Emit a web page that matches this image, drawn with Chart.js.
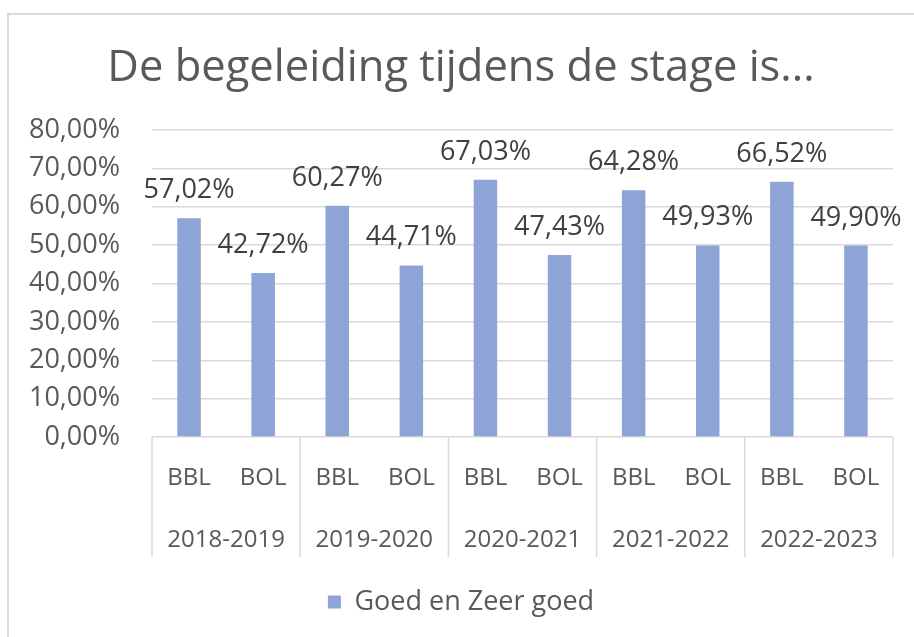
<!DOCTYPE html>
<html lang="nl">
<head>
<meta charset="UTF-8">
<title>De begeleiding tijdens de stage is...</title>
<script src="https://cdn.jsdelivr.net/npm/chart.js@4"></script>
<style>
  html, body { margin: 0; padding: 0; background: #fff; overflow: hidden; width: 914px; height: 637px; }
  .frame { position: absolute; left: 7px; top: 13px; width: 912px; height: 660px; border: 2px solid #d9d9d9; }
  canvas { display: block; }
</style>
</head>
<body>
<div class="frame"><canvas id="myChart" width="912" height="640"></canvas></div>

<script>
// data
const types = ['BBL', 'BOL', 'BBL', 'BOL', 'BBL', 'BOL', 'BBL', 'BOL', 'BBL', 'BOL'];
const years = ['2018-2019', '2019-2020', '2020-2021', '2021-2022', '2022-2023'];
const goedEnZeerGoed = [57.02, 42.72, 60.27, 44.71, 67.03, 47.43, 64.28, 49.93, 66.52, 49.90];
const yTicks = [0, 10, 20, 30, 40, 50, 60, 70, 80];

const barColor = '#8fa4d6';
const textColor = '#595959';
const gridColor = '#d9d9d9';

function pct(v) {
    return v.toFixed(2).replace('.', ',') + '%';
}

// value labels above the bars
const dataLabels = {
    id: 'dataLabels',
    afterDatasetsDraw(chart) {
        const ctx = chart.ctx;
        ctx.save();
        ctx.font = '27px "Open Sans"';
        ctx.fillStyle = '#404040';
        ctx.textAlign = 'center';
        ctx.textBaseline = 'alphabetic';
        chart.getDatasetMeta(0).data.forEach((bar, i) => {
            ctx.fillText(pct(chart.data.datasets[0].data[i]), bar.x, bar.y - 20);
        });
        ctx.restore();
    }
};

// vertical separators between the year groups under the axis
const groupLines = {
    id: 'groupLines',
    afterDraw(chart) {
        const x = chart.scales.x;
        const ctx = chart.ctx;
        const top = chart.chartArea.bottom;
        const xs = [x.left];
        for (let k = 1; k < years.length; k++) {
            xs.push((x.getPixelForValue(2 * k - 1) + x.getPixelForValue(2 * k)) / 2);
        }
        xs.push(x.right);
        ctx.save();
        ctx.strokeStyle = gridColor;
        ctx.lineWidth = 1.5;
        xs.forEach(px => {
            ctx.beginPath();
            ctx.moveTo(px, top);
            ctx.lineTo(px, top + 120);
            ctx.stroke();
        });
        ctx.restore();
    }
};

const axisFont = { family: '"Open Sans"', size: 24 };

new Chart(document.getElementById('myChart').getContext('2d'), {
    type: 'bar',
    data: {
        labels: types,
        datasets: [{
            label: 'Goed en Zeer goed',
            data: goedEnZeerGoed,
            backgroundColor: barColor,
            borderWidth: 0,
            barPercentage: 0.317,
            categoryPercentage: 1
        }]
    },
    options: {
        responsive: false,
        animation: false,
        layout: { padding: { left: 20, right: 28, top: 0, bottom: 29.5 } },
        plugins: {
            title: {
                display: true,
                text: 'De begeleiding tijdens de stage is...',
                color: textColor,
                font: { family: '"Open Sans"', size: 43.5, weight: 'normal' },
                padding: { top: 27.5, bottom: 35.3 }
            },
            legend: {
                position: 'bottom',
                labels: {
                    boxWidth: 13,
                    boxHeight: 13,
                    padding: 27.5,
                    color: textColor,
                    font: { family: '"Open Sans"', size: 27 }
                }
            },
            tooltip: { enabled: false }
        },
        scales: {
            y: {
                min: 0,
                max: 80,
                afterBuildTicks: (scale) => { scale.ticks = yTicks.map(v => ({ value: v })); },
                afterFit: (scale) => { scale.width = 123; },
                grid: { color: gridColor, lineWidth: 1.5, drawTicks: false },
                border: { display: false },
                ticks: {
                    padding: 32,
                    autoSkip: false,
                    color: textColor,
                    font: { family: '"Open Sans"', size: 27 },
                    callback: (value) => pct(value)
                }
            },
            x: {
                grid: { display: false, drawTicks: false },
                border: { display: false },
                ticks: {
                    padding: 26.6,
                    maxRotation: 0,
                    autoSkip: false,
                    color: textColor,
                    font: axisFont
                }
            },
            x2: {
                type: 'category',
                labels: years,
                position: 'bottom',
                offset: true,
                grid: { display: false, drawTicks: false },
                border: { display: false },
                ticks: {
                    padding: 6.6,
                    maxRotation: 0,
                    autoSkip: false,
                    color: textColor,
                    font: axisFont
                }
            }
        }
    },
    plugins: [dataLabels, groupLines]
});
</script>
</body>
</html>
